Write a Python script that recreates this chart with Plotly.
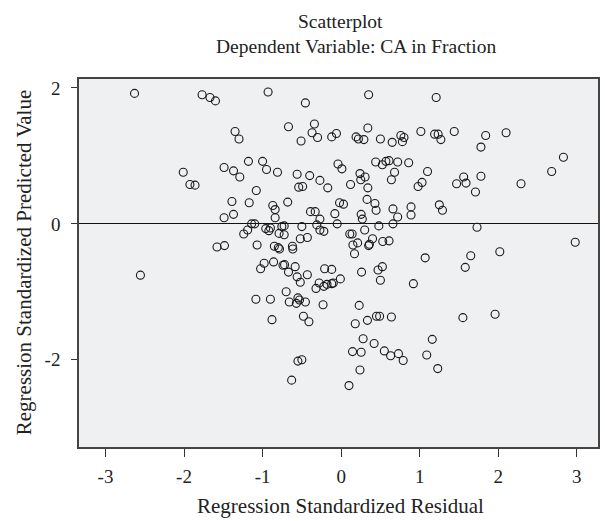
import plotly.graph_objects as go

# Regression standardized residual (x) and predicted value (y)
residual = [
    -2.63, -1.77, -1.67, -1.60, -0.93, -0.455,
    -1.35, -1.30, -0.67, -0.34, -0.37, -0.30, -0.51,
    -2.01, -1.925, -1.86, -1.49, -1.37, -1.29, -1.18, -1.00, -0.95, -0.81, -1.08,
    -0.56, -0.40, -0.27, -0.54, -0.49, -0.17,
    -1.39, -1.17, -1.49, -1.37, -0.87, -0.84, -0.84, -0.68, -0.39, -0.33, -0.27,
    0.35, 1.21, 0.34, -0.12, -0.06, 0.19, 0.22, 0.29, 0.50, 0.65, 0.76, 0.80, 0.78,
    1.015, 1.19, 1.235, 1.27, 1.44, 1.84, 1.78, 2.10, 2.83, 2.68, 2.29,
    -0.04, 0.01, 0.12, 0.24, 0.25, 0.305, 0.34, 0.44, 0.525, 0.57, 0.61, 0.72, 0.86,
    0.68, 0.64, 1.10, 1.03, 0.98, 1.47, 1.56, 1.59, 1.78, 1.71,
    -0.02, 0.03, -0.08, -0.05, 0.33, 0.43, 0.445, 0.255, 0.27, 0.66, 0.72, 0.89, 0.89,
    1.25, 1.29, 0.66, 0.48, 0.30, 1.73,
    -1.24, -1.19, -1.58, -1.485, -2.555,
    -1.14, -1.10, -0.96, -0.92, -0.90, -0.755, -0.725, -0.79, -0.725, -0.50, -0.31,
    -0.27, -0.22, 0.11, 0.14,
    -1.07, -0.85, -0.80, -0.785, -0.62, -0.615, -0.52, -0.43, 0.15, 0.21, 0.17, 0.35,
    0.36, 0.40, 0.53, 0.61, 1.07,
    -1.025, -0.98, -0.86, -0.74, -0.72, -0.67, -0.585, -0.56, -0.52, -0.43, -0.21,
    -0.12, -0.01, -0.32, -0.28, -0.22, -0.18, -0.12, -0.10, 0.26, 0.47, 0.525, 0.50, 0.92,
    -1.085, -0.90, -0.70, -0.66, -0.57, -0.55, -0.53, -0.455, -0.23, 0.23,
    -0.88, -0.48, -0.41, 0.18, 0.335, 0.45, 0.49, 0.64,
    0.28, 0.42, 0.145, 0.255, 0.55, 0.63, 0.73, 0.79, 1.09, -0.55, -0.50, 0.24, -0.63, 0.10,
    2.98, 1.65, 1.58, 2.02, 1.55, 1.96, 1.16, 1.23,
]
predicted = [
    1.92, 1.90, 1.86, 1.81, 1.94, 1.78,
    1.36, 1.25, 1.43, 1.47, 1.34, 1.27, 1.22,
    0.76, 0.58, 0.57, 0.83, 0.78, 0.69, 0.92, 0.92, 0.80, 0.76, 0.49,
    0.73, 0.71, 0.64, 0.54, 0.55, 0.53,
    0.33, 0.31, 0.09, 0.14, 0.27, 0.21, 0.09, 0.32, 0.18, 0.18, 0.07,
    1.90, 1.86, 1.41, 1.28, 1.33, 1.28, 1.25, 1.24, 1.25, 1.20, 1.30, 1.27, 1.21,
    1.36, 1.32, 1.32, 1.24, 1.36, 1.30, 1.13, 1.34, 0.98, 0.77, 0.59,
    0.88, 0.81, 0.58, 0.74, 0.65, 0.69, 0.53, 0.91, 0.87, 0.92, 0.93, 0.91, 0.90,
    0.76, 0.65, 0.77, 0.61, 0.55, 0.59, 0.69, 0.60, 0.70, 0.47,
    0.31, 0.29, 0.15, 0.00, 0.36, 0.30, 0.20, 0.14, 0.07, 0.22, 0.10, 0.25, 0.13,
    0.28, 0.20, 0.00, -0.03, -0.09, -0.05,
    -0.15, -0.09, -0.34, -0.32, -0.755,
    0.00, 0.00, -0.07, -0.10, -0.06, -0.04, -0.03, -0.14, -0.16, -0.04, -0.015,
    -0.09, -0.11, -0.15, -0.15,
    -0.31, -0.33, -0.35, -0.37, -0.33, -0.37, -0.22, -0.20, -0.31, -0.28, -0.44, -0.32,
    -0.30, -0.22, -0.26, -0.25, -0.50,
    -0.66, -0.58, -0.56, -0.61, -0.60, -0.71, -0.63, -0.78, -0.86, -0.75, -0.66,
    -0.67, -0.81, -0.95, -0.87, -0.92, -0.89, -0.88, -0.87, -0.71, -0.68, -0.63, -0.83, -0.88,
    -1.11, -1.11, -1.00, -1.15, -1.17, -1.09, -1.12, -1.15, -1.19, -1.20,
    -1.41, -1.36, -1.44, -1.47, -1.42, -1.36, -1.36, -1.37,
    -1.69, -1.76, -1.88, -1.89, -1.87, -1.94, -1.91, -2.01, -1.93, -2.02, -2.00, -2.15, -2.30, -2.38,
    -0.27, -0.47, -0.64, -0.41, -1.38, -1.33, -1.70, -2.13,
]

x_ticks = [-3, -2, -1, 0, 1, 2, 3]
y_ticks = [-2, 0, 2]

title_line1 = "Scatterplot"
title_line2 = "Dependent Variable: CA in Fraction"
x_title = "Regression Standardized Residual"
y_title = "Regression Standardized Predicted Value"

FONT = "Liberation Serif"
TXT = "#222222"

# plot area in pixels: x 79..600, y 79..447
L, R, T, B = 79, 600, 79, 447
W, H = R - L, B - T


def px(xp):
    return (xp - L) / W


def py(yp):
    return (B - yp) / H


fig = go.Figure(
    go.Scatter(
        x=residual,
        y=predicted,
        mode="markers",
        marker=dict(symbol="circle-open", size=8, color="#1a1a1a", line=dict(width=1.1, color="#1a1a1a")),
        hoverinfo="x+y",
    )
)

fig.update_layout(
    width=605,
    height=521,
    margin=dict(l=L, r=605 - R, t=T, b=521 - B),
    paper_bgcolor="white",
    plot_bgcolor="#eff0f2",
    showlegend=False,
    font=dict(family=FONT, color=TXT, size=19),
)

fig.update_xaxes(
    range=[-3.337, 3.27],
    tickvals=x_ticks,
    ticktext=[str(v) for v in x_ticks],
    ticks="outside",
    ticklen=8,
    tickwidth=1.3,
    tickcolor="#333333",
    ticklabelstandoff=3,
    showline=True,
    mirror=True,
    linecolor="#444444",
    linewidth=1.5,
    showgrid=False,
    zeroline=False,
    tickfont=dict(family=FONT, size=19, color=TXT),
)
fig.update_yaxes(
    range=[-3.284, 2.132],
    tickvals=y_ticks,
    ticktext=[str(v) for v in y_ticks],
    ticks="outside",
    ticklen=6,
    tickwidth=1.3,
    tickcolor="#333333",
    ticklabelstandoff=7,
    showline=True,
    mirror=True,
    linecolor="#444444",
    linewidth=1.5,
    showgrid=False,
    zeroline=True,
    zerolinecolor="#111111",
    zerolinewidth=1.2,
    tickfont=dict(family=FONT, size=19, color=TXT),
)

fig.add_annotation(text=title_line1, xref="paper", yref="paper", x=px(342), y=py(22),
                   xanchor="center", yanchor="middle", showarrow=False, font=dict(family=FONT, size=19.5, color=TXT))
fig.add_annotation(text=title_line2, xref="paper", yref="paper", x=px(357), y=py(46),
                   xanchor="center", yanchor="middle", showarrow=False, font=dict(family=FONT, size=19.5, color=TXT))
fig.add_annotation(text=x_title, xref="paper", yref="paper", x=px(342), y=py(505.5),
                   xanchor="center", yanchor="middle", showarrow=False, font=dict(family=FONT, size=21, color=TXT))
fig.add_annotation(text=y_title, xref="paper", yref="paper", x=px(24), y=py(263), textangle=-90,
                   xanchor="center", yanchor="middle", showarrow=False, font=dict(family=FONT, size=21, color=TXT))

fig.write_html(
    "out.html",
    config={"displayModeBar": False},
    post_script="document.body.style.margin='0';document.body.style.overflow='hidden';",
)
